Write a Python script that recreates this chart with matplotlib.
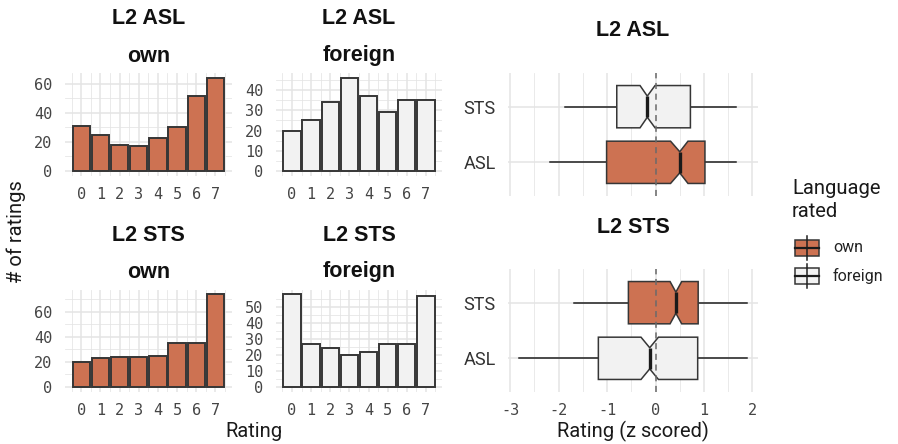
import matplotlib
matplotlib.use("Agg")
import numpy as np
import matplotlib.pyplot as plt
from matplotlib.patches import Rectangle
from matplotlib.lines import Line2D
from matplotlib.ticker import MultipleLocator, FixedLocator

plt.rcParams["axes.unicode_minus"] = False

# rating counts per panel (ratings 0..7)
ratings = [0, 1, 2, 3, 4, 5, 6, 7]
asl_own = [31, 25, 18, 17, 23, 30, 52, 64]
asl_foreign = [20, 25, 34, 46, 37, 29, 35, 35]
sts_own = [20, 23, 24, 24, 25, 35, 35, 74]
sts_foreign = [58, 27, 24, 20, 22, 27, 27, 57]

# z-scored rating summaries: whislo, q1, med, q3, whishi, notch low, notch high
box_labels = ["ASL", "STS"]
asl_raters_asl = [-2.18, -1.01, 0.50, 1.02, 1.66, 0.31, 0.67]   # own
asl_raters_sts = [-1.87, -0.80, -0.17, 0.72, 1.66, -0.32, -0.01]  # foreign
sts_raters_asl = [-2.81, -1.18, -0.12, 0.87, 1.88, -0.30, 0.06]  # foreign
sts_raters_sts = [-1.68, -0.56, 0.42, 0.88, 1.88, 0.30, 0.54]    # own

OWN = "#CD7252"
FOREIGN = "#F2F2F2"
EDGE = "#363636"
GRID = "#e4e4e4"
TICK = "#454545"
BODY = "Roboto"
TITLE = "Liberation Sans"
NUM = "DejaVu Sans Mono"

W, H = 898, 444
fig = plt.figure(figsize=(W / 100, H / 100), dpi=100)


def rect(x0, y0, x1, y1):
    return [x0 / W, 1 - y1 / H, (x1 - x0) / W, (y1 - y0) / H]


def fx(x):
    return x / W


def fy(y):
    return 1 - y / H


def style(ax):
    for s in ax.spines.values():
        s.set_visible(False)
    ax.tick_params(which="both", length=0)
    ax.grid(which="major", color=GRID, lw=1.1, zorder=0)
    ax.grid(which="minor", color=GRID, lw=0.55, zorder=0)
    ax.set_axisbelow(True)


def bar_panel(pos, counts, color, step):
    ax = fig.add_axes(rect(*pos))
    ax.bar(ratings, counts, width=0.9, color=color, edgecolor=EDGE, lw=1.4, zorder=2)
    top = max(counts)
    ax.set_xlim(-0.845, 7.845)
    ax.set_ylim(-0.05 * top, 1.05 * top)
    ax.set_xticks(ratings)
    ax.xaxis.set_minor_locator(MultipleLocator(0.5))
    # breaks only inside the data range, minor lines halfway between
    major = np.arange(0, top + 1, step)
    minor = np.arange(step / 2, 1.05 * top, step)
    ax.yaxis.set_major_locator(FixedLocator(major))
    ax.yaxis.set_minor_locator(FixedLocator(minor))
    style(ax)
    ax.tick_params(axis="x", pad=8, labelsize=11, labelcolor=TICK)
    ax.tick_params(axis="y", pad=9, labelsize=11, labelcolor=TICK)
    ax.set_yticklabels([str(int(v)) for v in major])
    for t in ax.get_xticklabels() + ax.get_yticklabels():
        t.set_family(NUM)
    return ax


bar_panel((65, 73.5, 231.6, 175.5), asl_own, OWN, 20)
bar_panel((275.8, 73.5, 442.1, 175.5), asl_foreign, FOREIGN, 10)
bar_panel((65, 289.5, 231.6, 391.5), sts_own, OWN, 20)
bar_panel((275.8, 289.5, 442.1, 391.5), sts_foreign, FOREIGN, 10)


def stats(v):
    return dict(whislo=v[0], q1=v[1], med=v[2], q3=v[3], whishi=v[4],
                cilo=v[5], cihi=v[6], fliers=[])


def box_panel(pos, asl, sts, asl_col, sts_col, show_x):
    ax = fig.add_axes(rect(*pos))
    ax.axvline(0, color="#6a6a6a", lw=1.1, ls=(0, (4, 3)), zorder=4)
    art = ax.bxp([stats(asl), stats(sts)], positions=[1, 2], widths=0.76,
                 orientation="horizontal", shownotches=True, showcaps=False,
                 showfliers=False, patch_artist=True,
                 boxprops=dict(edgecolor=EDGE, lw=1.1),
                 whiskerprops=dict(color="#1f1f1f", lw=1.1),
                 medianprops=dict(color="#1a1a1a", lw=2.4, solid_capstyle="butt"))
    for patch, c in zip(art["boxes"], [asl_col, sts_col]):
        patch.set_facecolor(c)
        patch.set_zorder(3)
    for ln in art["medians"]:
        ln.set_zorder(5)
    ax.set_xlim(-3.045, 2.115)
    ax.set_ylim(0.4, 2.6)
    ax.set_yticks([1, 2])
    ax.set_yticklabels(box_labels, family=BODY, fontsize=13, color="#333333")
    ax.xaxis.set_major_locator(MultipleLocator(1))
    ax.xaxis.set_minor_locator(MultipleLocator(0.5))
    ax.yaxis.set_minor_locator(plt.NullLocator())
    style(ax)
    ax.tick_params(axis="y", pad=9)
    ax.tick_params(axis="x", pad=8, labelsize=11, labelcolor=TICK, labelbottom=show_x)
    for t in ax.get_xticklabels():
        t.set_family(NUM)
    return ax


box_panel((508, 73.3, 758, 195.7), asl_raters_asl, asl_raters_sts, OWN, FOREIGN, False)
box_panel((508, 269.3, 758, 391.7), sts_raters_asl, sts_raters_sts, FOREIGN, OWN, True)

# panel titles
tkw = dict(family=TITLE, weight="bold", fontsize=15.5, color="#111111", ha="center", va="center")
for x, y, s in [(148.3, 19, "L2 ASL"), (359, 19, "L2 ASL"),
                (148.3, 56, "own"), (359, 56, "foreign"),
                (148.3, 235, "L2 STS"), (359, 235, "L2 STS"),
                (148.3, 272, "own"), (359, 272, "foreign"),
                (633, 31, "L2 ASL"), (633, 227, "L2 STS")]:
    fig.text(fx(x), fy(y), s, **tkw)

# axis titles
akw = dict(family=BODY, fontsize=14.5, color="#1a1a1a", ha="center", va="center")
fig.text(fx(16), fy(232), "# of ratings", rotation=90, **akw)
fig.text(fx(253.5), fy(431), "Rating", **akw)
fig.text(fx(633), fy(431), "Rating (z scored)", **akw)

# legend
fig.text(fx(792), fy(200), "Language\nrated", family=BODY, fontsize=14.5,
         color="#1a1a1a", ha="left", va="center", linespacing=1.25)
for yc, c, lab in [(248, OWN, "own"), (275.5, FOREIGN, "foreign")]:
    fig.add_artist(Line2D([fx(807), fx(807)], [fy(yc - 12), fy(yc + 12)],
                          color="#1f1f1f", lw=1.1))
    fig.add_artist(Rectangle((fx(795), fy(yc + 8)), fx(24), 16 / H,
                             facecolor=c, edgecolor=EDGE, lw=1.1))
    fig.add_artist(Line2D([fx(795), fx(819)], [fy(yc), fy(yc)], color="#1a1a1a", lw=1.6))
    fig.text(fx(833), fy(yc), lab, family=BODY, fontsize=11.5, color="#222222",
             ha="left", va="center")

fig.savefig("out.png", dpi=100)
